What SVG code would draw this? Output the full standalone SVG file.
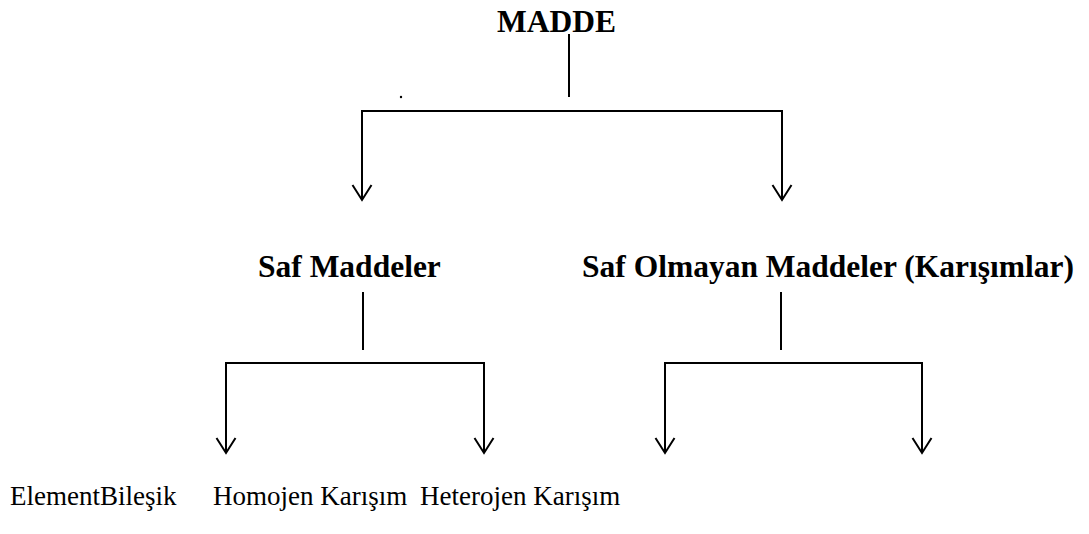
<svg xmlns="http://www.w3.org/2000/svg" width="1089" height="534" viewBox="0 0 1089 534">
  <style>
    .title { font-family: "Liberation Serif", "Times New Roman", serif; font-weight: bold; font-size: 31.5px; fill: #000; }
    .leaf { font-family: "Liberation Serif", "Times New Roman", serif; font-size: 27px; fill: #000; }
    .wire { fill: none; stroke: #000; stroke-width: 2; }
    .arrow { fill: none; stroke: #000; stroke-width: 2; marker-end: url(#open-arrow); }
  </style>
  <defs>
    <!-- open V head pointing along the line direction -->
    <marker id="open-arrow" viewBox="0 0 18 22" refX="16" refY="11" markerWidth="18" markerHeight="22" markerUnits="userSpaceOnUse" orient="auto">
      <path d="M1,1.5 L16,11 L1,20.5" fill="none" stroke="#000" stroke-width="2"/>
    </marker>
  </defs>
  <rect width="1089" height="534" fill="#fff"/>

  <g id="connectors">
    <!-- root to first level -->
    <line class="wire" x1="569" y1="34" x2="569" y2="97"/>
    <line class="wire" x1="361" y1="111" x2="783" y2="111"/>
    <line class="arrow" x1="362" y1="110" x2="362" y2="200"/>
    <line class="arrow" x1="782" y1="110" x2="782" y2="200"/>
    <!-- Saf Maddeler branches -->
    <line class="wire" x1="363" y1="292" x2="363" y2="350"/>
    <line class="wire" x1="225" y1="363" x2="485" y2="363"/>
    <line class="arrow" x1="226" y1="362" x2="226" y2="453"/>
    <line class="arrow" x1="484" y1="362" x2="484" y2="453"/>
    <!-- Karışımlar branches -->
    <line class="wire" x1="781" y1="292" x2="781" y2="350"/>
    <line class="wire" x1="664" y1="363" x2="923" y2="363"/>
    <line class="arrow" x1="665" y1="362" x2="665" y2="453"/>
    <line class="arrow" x1="922" y1="362" x2="922" y2="453"/>
  </g>

  <g id="node-madde">
    <text class="title" x="497" y="32">MADDE</text>
  </g>
  <g id="stray-dot">
    <circle cx="401" cy="97" r="1.2" fill="#000"/>
  </g>
  <g id="node-saf">
    <text class="title" x="258" y="277">Saf Maddeler</text>
  </g>
  <g id="node-karisim">
    <text class="title" x="582" y="277">Saf Olmayan Maddeler (Karışımlar)</text>
  </g>
  <g id="node-element-bilesik">
    <text class="leaf" x="10" y="505">ElementBileşik</text>
  </g>
  <g id="node-homojen">
    <text class="leaf" x="213" y="505">Homojen Karışım</text>
  </g>
  <g id="node-heterojen">
    <text class="leaf" x="420" y="505">Heterojen Karışım</text>
  </g>
</svg>
